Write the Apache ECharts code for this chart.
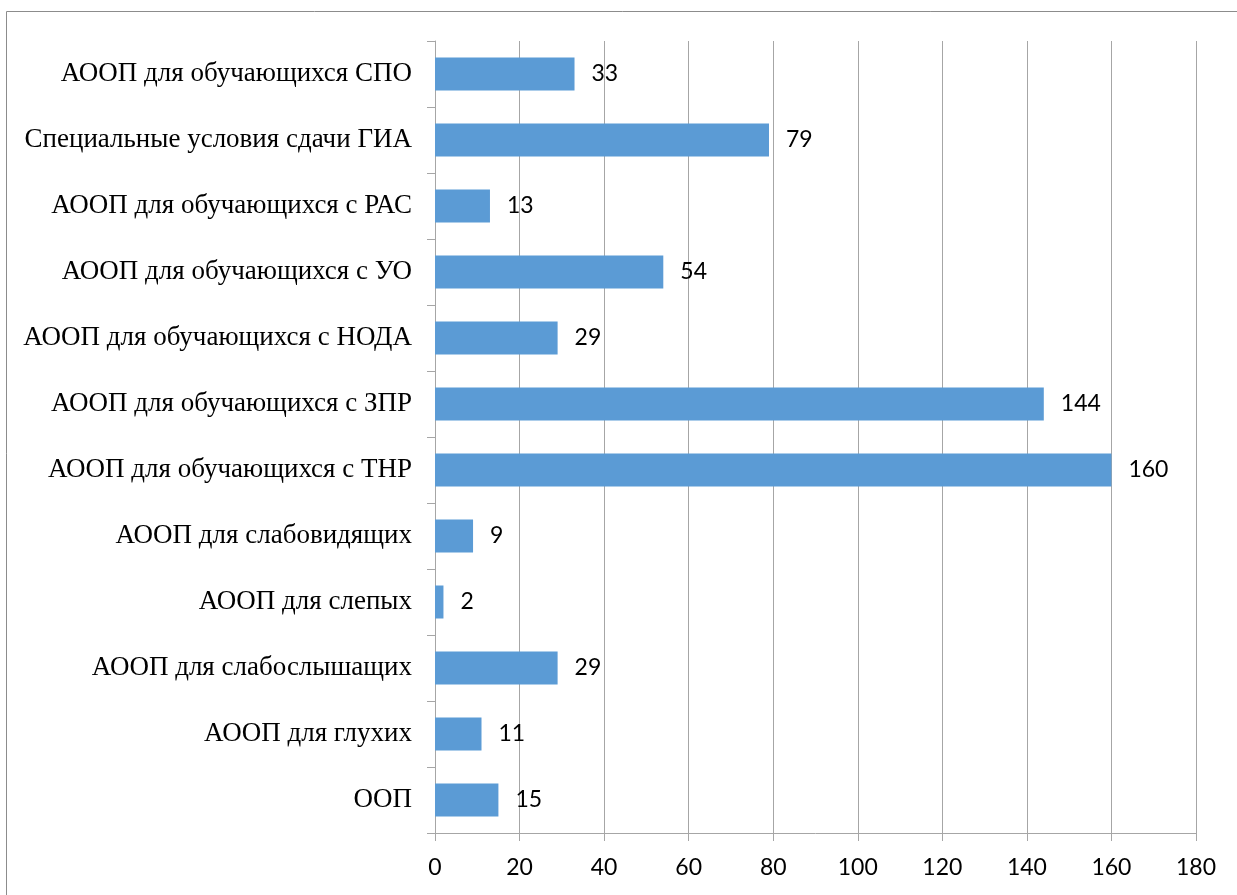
<!DOCTYPE html>
<html>
<head>
<meta charset="utf-8">
<script src="https://cdn.jsdelivr.net/npm/echarts@6/dist/echarts.min.js"></script>
<style>
html,body{margin:0;padding:0;background:#fff;}
#chart{width:1237px;height:895px;}
</style>
</head>
<body>
<div id="chart"></div>
<script>
const categories = [
  'ООП',
  'АООП для глухих',
  'АООП для слабослышащих',
  'АООП для слепых',
  'АООП для слабовидящих',
  'АООП для обучающихся с ТНР',
  'АООП для обучающихся с ЗПР',
  'АООП для обучающихся с НОДА',
  'АООП для обучающихся с УО',
  'АООП для обучающихся с РАС',
  'Специальные условия сдачи ГИА',
  'АООП для обучающихся СПО'
];
const values = [15, 11, 29, 2, 9, 160, 144, 29, 54, 13, 79, 33];
const xTicks = [0, 20, 40, 60, 80, 100, 120, 140, 160, 180];

const chart = echarts.init(document.getElementById('chart'));
chart.setOption({
  animation: false,
  graphic: [{
    type: 'rect',
    shape: { x: 6.5, y: 11.5, width: 1300, height: 1000 },
    style: { fill: 'none', stroke: '#8c8c8c', lineWidth: 1 },
    silent: true
  }],
  grid: { left: 435, right: 41, top: 41, bottom: 62, containLabel: false },
  xAxis: {
    type: 'value',
    min: xTicks[0],
    max: xTicks[xTicks.length - 1],
    interval: 20,
    axisLine: { show: true, lineStyle: { color: '#a6a6a6', width: 1 } },
    axisTick: { show: true, length: 8, lineStyle: { color: '#a6a6a6' } },
    splitLine: { show: true, lineStyle: { color: '#a6a6a6', width: 1 } },
    axisLabel: { color: '#000', fontFamily: 'Lato', fontSize: 23, margin: 23 }
  },
  yAxis: {
    type: 'category',
    data: categories,
    axisLine: { show: true, lineStyle: { color: '#a6a6a6', width: 1 } },
    axisTick: { show: true, length: 8, lineStyle: { color: '#a6a6a6' } },
    axisLabel: { color: '#000', fontFamily: 'Liberation Serif', fontSize: 27, margin: 23 }
  },
  series: [{
    type: 'bar',
    data: values,
    barCategoryGap: '50%',
    itemStyle: { color: '#5b9bd5' },
    label: {
      show: true,
      position: 'right',
      distance: 17,
      color: '#000',
      fontFamily: 'Lato',
      fontSize: 23
    }
  }]
});
</script>
</body>
</html>
